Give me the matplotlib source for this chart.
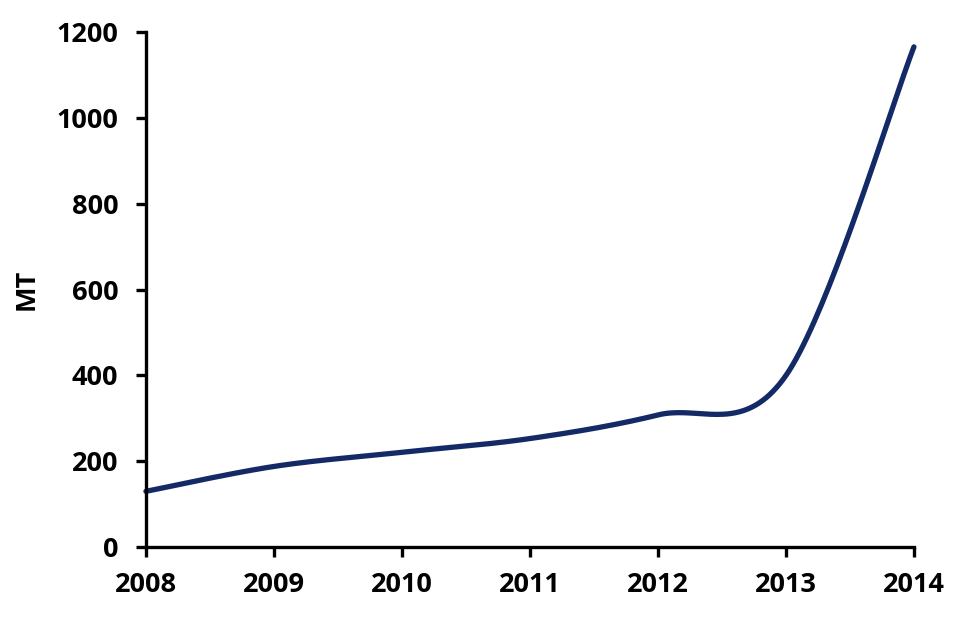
import numpy as np
import matplotlib.pyplot as plt

# values
years = [2008, 2009, 2010, 2011, 2012, 2013, 2014]
mt = [130, 188, 221, 253, 308, 400, 1166]
y_ticks = [0, 200, 400, 600, 800, 1000, 1200]

plt.rcParams['font.family'] = ['Open Sans', 'DejaVu Sans']
plt.rcParams['font.weight'] = 'bold'


def smooth_line(xs, ys, steps=40):
    # Excel-style smoothed line: cubic Bezier segments with Catmull-Rom control points
    pts = np.column_stack([xs, ys]).astype(float)
    ext = np.vstack([pts[0], pts, pts[-1]])
    out = []
    for i in range(1, len(ext) - 2):
        p0, p1, p2, p3 = ext[i - 1], ext[i], ext[i + 1], ext[i + 2]
        c1 = p1 + (p2 - p0) / 6.0
        c2 = p2 - (p3 - p1) / 6.0
        t = np.linspace(0, 1, steps)[:, None]
        seg = ((1 - t) ** 3) * p1 + 3 * ((1 - t) ** 2) * t * c1 + 3 * (1 - t) * t ** 2 * c2 + t ** 3 * p2
        out.append(seg if i == 1 else seg[1:])
    curve = np.vstack(out)
    return curve[:, 0], curve[:, 1]


fig = plt.figure(figsize=(9.6, 6.21), dpi=100)
ax = fig.add_axes([0.152, 0.119, 0.8, 0.829])

sx, sy = smooth_line(years, mt)
ax.plot(sx, sy, color='#142a66', linewidth=3.8, solid_capstyle='round', clip_on=False)

ax.set_xlim(2008, 2014)
ax.set_ylim(0, 1200)
ax.set_xticks(years)
ax.set_yticks(y_ticks)
ax.tick_params(axis='both', direction='out', length=7, width=2.4, labelsize=19.5, color='black')
ax.tick_params(axis='x', pad=11)
ax.tick_params(axis='y', pad=13)
for lbl in ax.get_xticklabels() + ax.get_yticklabels():
    lbl.set_fontweight('bold')

for side in ['top', 'right']:
    ax.spines[side].set_visible(False)
for side in ['left', 'bottom']:
    ax.spines[side].set_linewidth(2.4)
    ax.spines[side].set_color('black')

ax.set_ylabel('MT', fontsize=19.5, fontweight='bold', labelpad=12)

fig.savefig('out.png', dpi=100)
